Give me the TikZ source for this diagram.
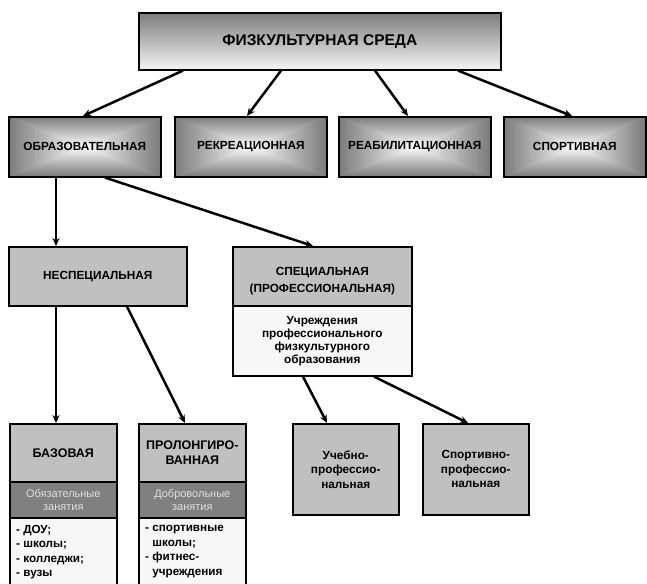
\documentclass[tikz,border=0pt]{standalone}
\usepackage{fontspec}
\setmainfont{Liberation Sans}
\usetikzlibrary{arrows.meta,calc}
\definecolor{edgegray}{HTML}{7C7C7C}
\definecolor{lightbox}{HTML}{C0C0C0}
\definecolor{midband}{HTML}{808080}
\definecolor{paper}{HTML}{F7F7F7}
\definecolor{bandtext}{HTML}{E0E0E0}
\tikzset{
  box/.style={draw=black, line width=1.6pt, rectangle, inner sep=0pt, anchor=north west, align=center,
    font=\bfseries\fontsize{11.8}{13}\selectfont},
  topbox/.style={box, top color=edgegray, bottom color=white!96!black, font=\bfseries\fontsize{15.5}{17}\selectfont},
  radbox/.style={box, path picture={
      \foreach \i in {0,...,40}{
        \pgfmathtruncatemacro\pp{\i*100/40}
        \pgfmathsetmacro\ff{1-\i/40}
        \fill[white!\pp!edgegray]
          ($(path picture bounding box.center)!\ff!(path picture bounding box.north west)$)
          rectangle
          ($(path picture bounding box.center)!\ff!(path picture bounding box.south east)$);
      }
    }},
  greybox/.style={box, fill=lightbox},
  tallgrey/.style={greybox, font=\bfseries\fontsize{11.8}{14.5}\selectfont},
  bandbox/.style={box, fill=midband, text=bandtext, font=\fontsize{11}{12.5}\selectfont},
  paperbox/.style={box, fill=paper},
  bighead/.style={greybox, font=\bfseries\fontsize{12.5}{15}\selectfont},
  label/.style={inner sep=0pt, align=center, font=\bfseries\fontsize{11.8}{17}\selectfont},
  listtext/.style={anchor=north west, inner sep=0pt, align=left, font=\bfseries\fontsize{11.7}{14.5}\selectfont},
  arr/.style={-{Stealth[length=8pt,width=7pt]}, line width=2.5pt, line cap=butt},
}
\begin{document}
\begin{tikzpicture}[x=1pt,y=-1pt]
\useasboundingbox (0,0) rectangle (647,583);
\clip (0,0) rectangle (647,583);

% top
\node[topbox, minimum width=362pt, minimum height=57pt] (top) at (138,12) {ФИЗКУЛЬТУРНАЯ СРЕДА};

% row 2
\node[radbox, minimum width=152pt, minimum height=60pt] (obr) at (8,116) {ОБРАЗОВАТЕЛЬНАЯ};
\node[radbox, minimum width=152pt, minimum height=60pt] (rek) at (174,116) {РЕКРЕАЦИОННАЯ};
\node[radbox, minimum width=152pt, minimum height=60pt] (reab) at (338,116) {РЕАБИЛИТАЦИОННАЯ};
\node[radbox, minimum width=142pt, minimum height=60pt] (sport) at (503,116) {СПОРТИВНАЯ};

% row 3
\node[greybox, minimum width=178pt, minimum height=59pt] (nesp) at (8,246) {НЕСПЕЦИАЛЬНАЯ};
\node[greybox, minimum width=179pt, minimum height=59pt] (spec) at (232,246) {};
\node[label] (spect) at ([yshift=-5pt]spec.center) {СПЕЦИАЛЬНАЯ\\(ПРОФЕССИОНАЛЬНАЯ)};
\node[paperbox, minimum width=179pt, minimum height=70pt] (specb) at (232,305) {Учреждения\\профессионального\\физкультурного\\образования};

% row 4
\node[bighead, minimum width=107pt, minimum height=58pt] (baz) at (9,423) {БАЗОВАЯ};
\node[bandbox, minimum width=107pt, minimum height=36pt] (bazm) at (9,481) {Обязательные\\занятия};
\node[paperbox, minimum width=107pt, minimum height=90pt] (bazl) at (9,517) {};
\node[listtext] (bazt) at ([xshift=7pt,yshift=-8pt]bazl.north west) {- ДОУ;\\- школы;\\- колледжи;\\- вузы};

\node[bighead, minimum width=107pt, minimum height=58pt] (prol) at (138,423) {ПРОЛОНГИРО-\\ВАННАЯ};
\node[bandbox, minimum width=107pt, minimum height=36pt] (prolm) at (138,481) {Добровольные\\занятия};
\node[paperbox, minimum width=107pt, minimum height=90pt] (proll) at (138,517) {};
\node[listtext] (prolt) at ([xshift=7pt,yshift=-8pt]proll.north west) {- спортивные\\\phantom{- }школы;\\- фитнес-\\\phantom{- }учреждения};

\node[tallgrey, minimum width=106pt, minimum height=91pt] (ucheb) at (292,423) {Учебно-\\профессио-\\нальная};
\node[tallgrey, minimum width=106pt, minimum height=91pt] (sportp) at (422,423) {Спортивно-\\профессио-\\нальная};

% arrows
\draw[arr] ([xshift=45pt]top.south west) -- ([xshift=75pt]obr.north west);
\draw[arr] ([xshift=143pt]top.south west) -- ([xshift=73pt]rek.north west);
\draw[arr] ([xshift=237pt]top.south west) -- ([xshift=70pt]reab.north west);
\draw[arr] ([xshift=320pt]top.south west) -- ([xshift=69pt]sport.north west);

\draw[arr] ([xshift=48pt]obr.south west) -- ([xshift=48pt]nesp.north west);
\draw[arr] ([xshift=97pt]obr.south west) -- ([xshift=81pt]spec.north west);

\draw[arr] ([xshift=48pt]nesp.south west) -- ([xshift=47pt]baz.north west);
\draw[arr] ([xshift=119pt]nesp.south west) -- ([xshift=47pt]prol.north west);

\draw[arr] ([xshift=71pt]specb.south west) -- ([xshift=35pt]ucheb.north west);
\draw[arr] ([xshift=142pt]specb.south west) -- ([xshift=46pt]sportp.north west);
\end{tikzpicture}
\end{document}
